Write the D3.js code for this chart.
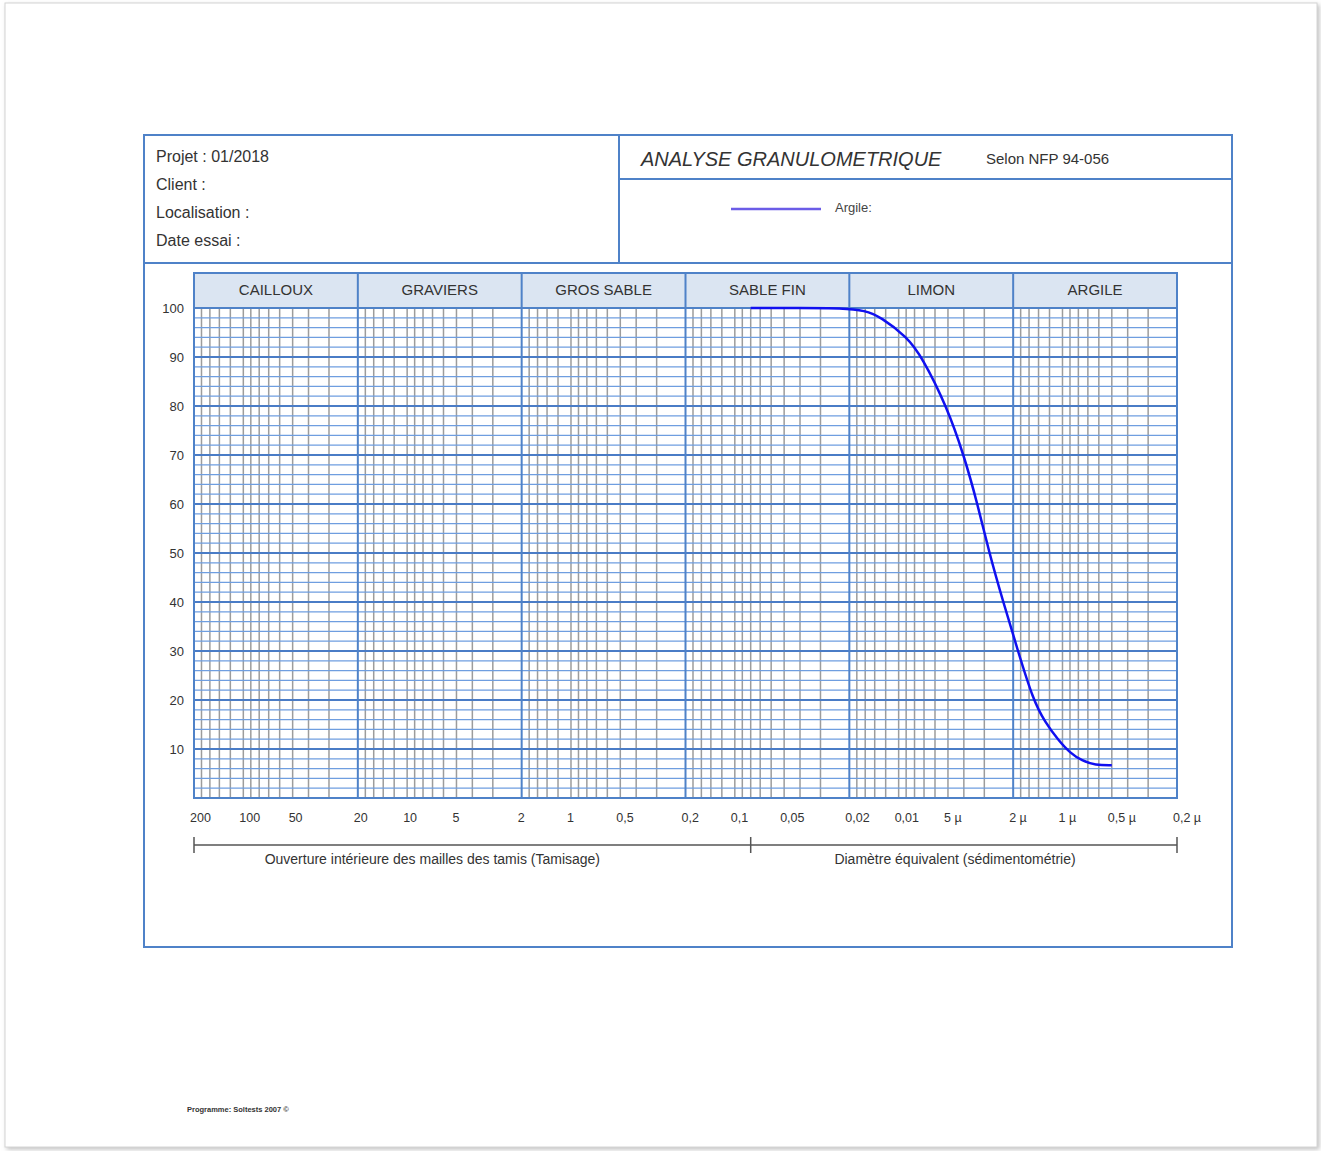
<!DOCTYPE html>
<html>
<head>
<meta charset="utf-8">
<script src="https://cdn.jsdelivr.net/npm/d3@7"></script>
<style>
  body { margin: 0; background: #fff; }
  svg { display: block; font-family: "Liberation Sans", Arial, sans-serif; }
</style>
</head>
<body>
<svg id="chart" width="1321" height="1151"></svg>
<script>
// grain size curve (mm, % passing)
const diameters = [0.08, 0.04, 0.022, 0.016, 0.0129, 0.0089, 0.0072, 0.0051, 0.0040, 0.0033, 0.0028, 0.0023, 0.00187, 0.00151, 0.00128, 0.00106, 0.00090, 0.00076, 0.00063, 0.0005];
const passing   = [100, 100, 100, 99.5, 98.2, 94.1, 90, 80, 70, 60, 50, 40, 30, 20, 15.5, 11.8, 9.2, 7.6, 6.7, 6.7];

const classes = ["CAILLOUX", "GRAVIERS", "GROS SABLE", "SABLE FIN", "LIMON", "ARGILE"];
const classBounds = [200, 20, 2, 0.2, 0.02, 0.002, 0.0002];

const tickValues = [200, 100, 50, 20, 10, 5, 2, 1, 0.5, 0.2, 0.1, 0.05, 0.02, 0.01, 0.005, 0.002, 0.001, 0.0005, 0.0002];
const tickLabels = ["200", "100", "50", "20", "10", "5", "2", "1", "0,5", "0,2", "0,1", "0,05", "0,02", "0,01", "5 µ", "2 µ", "1 µ", "0,5 µ", "0,2 µ"];

const yTicks = [10, 20, 30, 40, 50, 60, 70, 80, 90, 100];
const gridMantissas = [3, 4, 5, 6, 7, 8, 9, 10, 12, 14, 16, 18];
const sieveLimit = 0.08;

const headerLines = ["Projet : 01/2018", "Client :", "Localisation :", "Date essai :"];

const blue = "#4f82c8";
const svg = d3.select("#chart");

// page sheet
const defs = svg.append("defs");
const f = defs.append("filter").attr("id", "shadow").attr("x", "-2%").attr("y", "-2%").attr("width", "104%").attr("height", "104%");
f.append("feDropShadow").attr("dx", 2).attr("dy", 2).attr("stdDeviation", 2).attr("flood-color", "#999").attr("flood-opacity", 0.6);
svg.append("rect").attr("x", 5).attr("y", 3).attr("width", 1312).attr("height", 1144)
  .attr("fill", "#fff").attr("stroke", "#d4d4d4").attr("filter", "url(#shadow)");

// form frame
const frame = svg.append("g").attr("stroke", blue).attr("stroke-width", 2).attr("fill", "none");
frame.append("rect").attr("x", 144).attr("y", 135).attr("width", 1088).attr("height", 812);
frame.append("line").attr("x1", 144).attr("x2", 1232).attr("y1", 263).attr("y2", 263);
frame.append("line").attr("x1", 619).attr("x2", 619).attr("y1", 135).attr("y2", 263);
frame.append("line").attr("x1", 619).attr("x2", 1232).attr("y1", 179).attr("y2", 179);

svg.append("g").selectAll("text").data(headerLines).join("text")
  .attr("x", 156).attr("y", (d, i) => 162 + i * 28)
  .attr("font-size", 16).attr("fill", "#333").text(d => d);

svg.append("text").attr("x", 641).attr("y", 166).attr("font-size", 20).attr("font-style", "italic")
  .attr("fill", "#333").text("ANALYSE GRANULOMETRIQUE");
svg.append("text").attr("x", 986).attr("y", 164).attr("font-size", 15).attr("fill", "#333").text("Selon NFP 94-056");

// legend
svg.append("line").attr("x1", 731).attr("x2", 821).attr("y1", 209).attr("y2", 209)
  .attr("stroke", "#6b5ce7").attr("stroke-width", 2.5);
svg.append("text").attr("x", 835).attr("y", 212).attr("font-size", 13).attr("fill", "#444").text("Argile:");

// scales
const x = d3.scaleLog().domain([200, 0.0002]).range([194, 1177]);
const y = d3.scaleLinear().domain([0, 100]).range([798, 308]);
const bandTop = 273;

// class header band
svg.append("rect").attr("x", x(200)).attr("y", bandTop).attr("width", x(0.0002) - x(200)).attr("height", y(100) - bandTop)
  .attr("fill", "#dbe5f2");
svg.append("g").selectAll("text").data(classes).join("text")
  .attr("x", (d, i) => (x(classBounds[i]) + x(classBounds[i + 1])) / 2)
  .attr("y", 295).attr("text-anchor", "middle").attr("font-size", 15).attr("fill", "#333")
  .text(d => d);

// minor vertical grid (gray): 3..18 x 10^k inside each 2-20 decade
const minorX = [];
for (let k = -4; k <= 1; k++) gridMantissas.forEach(m => minorX.push(m * Math.pow(10, k)));
const grid = svg.append("g");
grid.selectAll("line.vx").data(minorX).join("line")
  .attr("class", "vx")
  .attr("x1", d => x(d)).attr("x2", d => x(d)).attr("y1", y(100)).attr("y2", y(0))
  .attr("stroke", "#9c9c9c").attr("stroke-width", 1.5);

// horizontal grid (blue)
grid.selectAll("line.hy").data(d3.range(2, 100, 2)).join("line")
  .attr("class", "hy")
  .attr("x1", x(200)).attr("x2", x(0.0002)).attr("y1", d => y(d)).attr("y2", d => y(d))
  .attr("stroke", d => d % 10 === 0 ? "#4a7cc6" : "#6f9ee0")
  .attr("stroke-width", d => d % 10 === 0 ? 2 : 1.2);

// decade bounds (blue)
grid.selectAll("line.vb").data(classBounds).join("line")
  .attr("class", "vb")
  .attr("x1", d => x(d)).attr("x2", d => x(d)).attr("y1", bandTop).attr("y2", y(0))
  .attr("stroke", blue).attr("stroke-width", 2);
grid.append("line").attr("x1", x(200)).attr("x2", x(0.0002)).attr("y1", y(100)).attr("y2", y(100))
  .attr("stroke", blue).attr("stroke-width", 2);
grid.append("rect").attr("x", x(200)).attr("y", bandTop).attr("width", x(0.0002) - x(200)).attr("height", y(0) - bandTop)
  .attr("fill", "none").attr("stroke", blue).attr("stroke-width", 2);

// axis labels
svg.append("g").selectAll("text").data(yTicks).join("text")
  .attr("x", 184).attr("y", d => y(d) + 5).attr("text-anchor", "end")
  .attr("font-size", 13).attr("fill", "#333").text(d => d);

svg.append("g").selectAll("text").data(tickValues).join("text")
  .attr("x", d => x(d) - 4).attr("y", 822)
  .attr("font-size", 12.5).attr("fill", "#333").text((d, i) => tickLabels[i]);

// curve
const pts = diameters.map((d, i) => [d, passing[i]]);
svg.append("path").datum(pts)
  .attr("fill", "none").attr("stroke", "#1010f0").attr("stroke-width", 2.5)
  .attr("d", d3.line().x(d => x(d[0])).y(d => y(d[1])).curve(d3.curveBasis));

// bracket under axis
const br = svg.append("g").attr("stroke", "#555").attr("stroke-width", 1.5);
br.append("line").attr("x1", x(200)).attr("x2", x(0.0002)).attr("y1", 845).attr("y2", 845);
[200, sieveLimit, 0.0002].forEach(v => {
  br.append("line").attr("x1", x(v)).attr("x2", x(v)).attr("y1", 837).attr("y2", 853);
});
svg.append("text").attr("x", (x(200) + x(sieveLimit)) / 2 - 40).attr("y", 864).attr("text-anchor", "middle")
  .attr("font-size", 14).attr("fill", "#333").text("Ouverture intérieure des mailles des tamis (Tamisage)");
svg.append("text").attr("x", 955).attr("y", 864).attr("text-anchor", "middle")
  .attr("font-size", 14).attr("fill", "#333").text("Diamètre équivalent (sédimentométrie)");

// footer
svg.append("text").attr("x", 187).attr("y", 1112).attr("font-size", 7.5).attr("font-weight", "bold")
  .attr("fill", "#333").text("Programme:  Soltests 2007 ©");
</script>
</body>
</html>
